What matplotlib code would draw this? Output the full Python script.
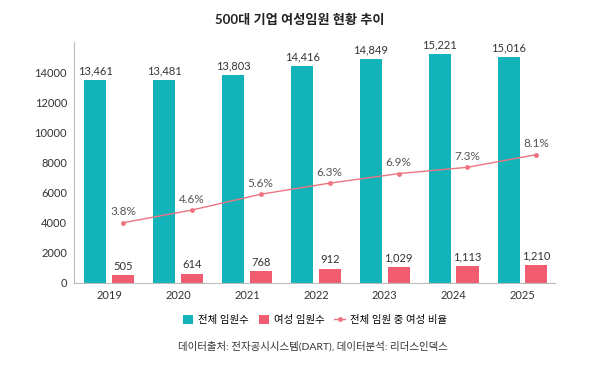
import numpy as np
import matplotlib.pyplot as plt

plt.rcParams['font.family'] = ['Lato', 'Noto Sans CJK KR', 'DejaVu Sans']

years = ['2019', '2020', '2021', '2022', '2023', '2024', '2025']
total_exec = [13461, 13481, 13803, 14416, 14849, 15221, 15016]
female_exec = [505, 614, 768, 912, 1029, 1113, 1210]
female_ratio = [3.8, 4.6, 5.6, 6.3, 6.9, 7.3, 8.1]

teal = '#13B4B9'
pink = '#F25C70'
line_col = '#EE7483'

fig = plt.figure(figsize=(6, 3.65), dpi=100)
ax = fig.add_axes([0.1233, 0.2247, 0.8017, 0.66])

x = np.arange(len(years))
w = 0.32
off = 0.2
ax.bar(x - off, total_exec, width=w, color=teal, label='전체 임원수')
ax.bar(x + off, female_exec, width=w, color=pink, label='여성 임원수')

for i in range(len(years)):
    ax.text(x[i] - off, total_exec[i] + 250, f'{total_exec[i]:,}', ha='center', va='bottom',
            fontsize=8, color='#333333')
    ax.text(x[i] + off, female_exec[i] + 250, f'{female_exec[i]:,}', ha='center', va='bottom',
            fontsize=8, color='#333333')

ax.set_xlim(-0.51, 6.47)
ax.set_ylim(0, 16000)
ax.set_xticks(x)
ax.set_xticklabels(years)
ax.set_yticks(range(0, 16000, 2000))
ax.tick_params(axis='both', length=0, labelsize=8, colors='#333333')
ax.tick_params(axis='x', pad=5)
ax.tick_params(axis='y', pad=5)
for s in ['top', 'right']:
    ax.spines[s].set_visible(False)
ax.spines['left'].set_color('#BBBBBB')
ax.spines['bottom'].set_color('#BBBBBB')

ax2 = ax.twinx()
ax2.set_ylim(0, 15.2)
ax2.plot(x + off, female_ratio, color=line_col, lw=1, marker='o', markersize=2.5,
         label='전체 임원 중 여성 비율')
for i in range(len(years)):
    ax2.text(x[i] + off, female_ratio[i] + 0.35, f'{female_ratio[i]}%', ha='center', va='bottom',
             fontsize=8.5, color='#555555')
ax2.set_yticks([])
for s in ['top', 'right', 'left', 'bottom']:
    ax2.spines[s].set_visible(False)

h1, l1 = ax.get_legend_handles_labels()
h2, l2 = ax2.get_legend_handles_labels()
fig.legend(h1 + h2, l1 + l2, loc='center', bbox_to_anchor=(0.525, 0.123), ncol=3, frameon=False,
           fontsize=7.5, handlelength=1.0, handleheight=1.0, columnspacing=0.9, handletextpad=0.5)

fig.text(0.5, 0.945, '500대 기업 여성임원 현황 추이', ha='center', va='center', fontsize=9.5,
         fontweight='bold', color='#222222')
fig.text(0.522, 0.05, '데이터출처: 전자공시시스템(DART), 데이터분석: 리더스인덱스', ha='center', va='center',
         fontsize=7.5, color='#333333')

fig.savefig('out.png', dpi=100, facecolor='white')
